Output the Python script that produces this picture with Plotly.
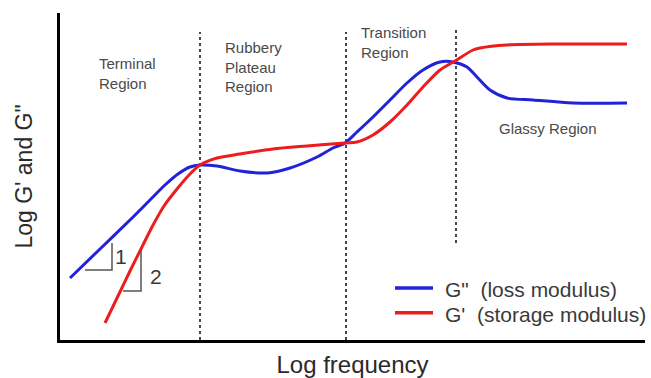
import plotly.graph_objects as go

# Curves (x: log frequency units, y: log modulus units)
loss_x = [10, 40, 70, 90, 105, 118, 130, 140, 157, 180, 207, 230, 257, 273, 285, 297, 313,
          330, 347, 363, 380, 393, 407, 417, 430, 447, 473, 513, 567]
loss_y = [62, 91, 120, 140, 155, 166, 173, 175, 174, 169, 167, 172, 183, 192, 197, 208, 223,
          240, 257, 270, 278, 278, 273, 263, 250, 242, 240, 237, 237]

storage_x = [45, 58, 70, 81, 92, 104, 117, 130, 140, 157, 180, 213, 247, 285, 297, 313, 330, 347,
             363, 380, 395, 413, 420, 447, 497, 567]
storage_y = [17, 44, 69, 91, 113, 134, 151, 166, 175, 182, 186, 191, 194, 197, 198, 205, 218, 235,
             253, 270, 279, 290, 292, 295, 296, 296]

series_names = ["G\"\u00a0\u00a0(loss modulus)", "G'\u00a0\u00a0(storage modulus)"]

# Region boundaries (x) and their vertical extents
boundary_x = [140, 286, 396]
boundary_top = [308, 308, 313]
boundary_bottom = [0, 0, 97]

# Region labels
region_labels = ["Terminal<br>Region", "Rubbery<br>Plateau<br>Region", "Transition<br>Region", "Glassy Region"]
region_x = [37, 163, 299, 437]
region_y = [287, 303, 318, 222]

# Slope triangles
tri1_x = [25, 52, 52]
tri1_y = [70, 70, 97]
tri2_x = [63, 81, 81]
tri2_y = [49, 49, 89]
slope_labels = ["1", "2"]
slope_x = [53, 88]
slope_y = [84, 64]

FONT = "Arial, 'Liberation Sans', sans-serif"
BLUE = "#2222d8"
RED = "#ee1c1c"
GREY = "#555555"
COLORS = [BLUE, RED]

fig = go.Figure()

fig.add_trace(go.Scatter(x=loss_x, y=loss_y, mode="lines", name=series_names[0], showlegend=False,
                         line=dict(color=BLUE, width=3, shape="spline", smoothing=0.8)))
fig.add_trace(go.Scatter(x=storage_x, y=storage_y, mode="lines", name=series_names[1], showlegend=False,
                         line=dict(color=RED, width=3, shape="spline", smoothing=0.8)))

fig.add_trace(go.Scatter(x=tri1_x, y=tri1_y, mode="lines", showlegend=False,
                         line=dict(color=GREY, width=1.5)))
fig.add_trace(go.Scatter(x=tri2_x, y=tri2_y, mode="lines", showlegend=False,
                         line=dict(color=GREY, width=1.5)))

for bx, bt, bb in zip(boundary_x, boundary_top, boundary_bottom):
    fig.add_shape(type="line", x0=bx, x1=bx, y0=bb, y1=bt, xref="x", yref="y",
                  line=dict(color="#333333", width=1.8, dash="3px,3px"), layer="below")

for t, x, y in zip(region_labels, region_x, region_y):
    fig.add_annotation(x=x, y=y, text=t, showarrow=False, xanchor="left", yanchor="top",
                       align="left", font=dict(family=FONT, size=15, color="#4a4a4a"))

for t, x, y in zip(slope_labels, slope_x, slope_y):
    fig.add_annotation(x=x, y=y, text=t, showarrow=False, xanchor="left", yanchor="middle",
                       font=dict(family=FONT, size=21, color="#3a3a3a"))

# Legend (drawn manually to match key line length and spacing)
leg_line_x0, leg_line_x1, leg_text_x = 0.5726, 0.6376, 0.654
leg_rows_y = [0.159, 0.083]
for name, col, ly in zip(series_names, COLORS, leg_rows_y):
    fig.add_shape(type="line", xref="paper", yref="paper", x0=leg_line_x0, x1=leg_line_x1,
                  y0=ly, y1=ly, line=dict(color=col, width=3.5))
    fig.add_annotation(xref="paper", yref="paper", x=leg_text_x, y=ly - 0.006, text=name,
                       showarrow=False, xanchor="left", yanchor="middle",
                       font=dict(family=FONT, size=21, color="#3a3a3a"))

fig.update_layout(
    width=651, height=378,
    margin=dict(l=60, r=6, t=13, b=38),
    plot_bgcolor="white", paper_bgcolor="white",
    font=dict(family=FONT),
    showlegend=False,
    xaxis=dict(range=[0, 585], showgrid=False, zeroline=False, showticklabels=False, ticks="",
               showline=True, linecolor="black", linewidth=3,
               title=dict(text="Log frequency", font=dict(family=FONT, size=24, color="#2a2a2a"),
                          standoff=16)),
    yaxis=dict(range=[0, 327], showgrid=False, zeroline=False, showticklabels=False, ticks="",
               showline=True, linecolor="black", linewidth=3,
               title=dict(text="Log G' and G\"", font=dict(family=FONT, size=23, color="#2a2a2a"),
                          standoff=18)),
)

fig.write_html("out.html")
